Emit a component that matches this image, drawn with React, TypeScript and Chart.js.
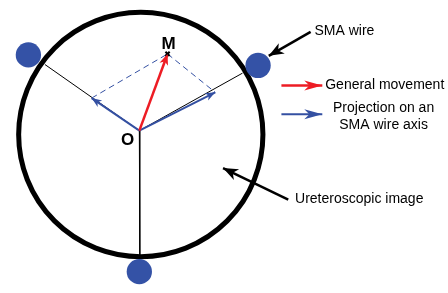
import React, { useEffect, useRef } from "react";
import { Chart, registerables } from "chart.js";

Chart.register(...registerables);

const CANVAS_W = 448;
const CANVAS_H = 293;

// Diagram coordinates (x to the right, y downward)
const imageCenter = [{ x: 138.5, y: 134 }];
const imageRadius = 125.5;
const origin = { x: 137, y: 130 };
const pointM = { x: 166, y: 50 };
const wireEnds = [
  { x: 40, y: 61 },
  { x: 243, y: 70 },
  { x: 137.5, y: 260 },
];
const wireDotsBehind = [{ x: 23, y: 51 }];
const wireDotsFront = [
  { x: 259, y: 62 },
  { x: 137, y: 277 },
];
const wireDotRadius = 13;
const projLeft = { x: 88, y: 96 };
const projRight = { x: 215, y: 90 };

const redArrows = [
  [origin, pointM],
  [{ x: 283, y: 83 }, { x: 325, y: 83 }],
];
const blueArrows = [
  [origin, projLeft],
  [origin, projRight],
  [{ x: 283, y: 113 }, { x: 325, y: 113 }],
];
const blackArrows = [
  [{ x: 313, y: 27 }, { x: 270, y: 52 }],
  [{ x: 290, y: 202 }, { x: 223, y: 169 }],
];
const dashedLines = [
  [projLeft, pointM],
  [pointM, projRight],
];

const boldLabels = [
  { text: "M", x: 167, y: 40 },
  { text: "O", x: 125, y: 140 },
];
const leftLabels = [
  { text: "SMA wire", x: 317, y: 26 },
  { text: "General movement", x: 328, y: 83 },
  { text: "Ureteroscopic image", x: 297, y: 201 },
];
const centerLabels = [
  { text: "Projection on an", x: 388, y: 106 },
  { text: "SMA wire axis", x: 388, y: 124 },
];

const RED = "#ED1C24";
const BLUE = "#3450A2";
const DOT_BLUE = "#3452A6";
const FONT = '"Liberation Sans", Arial, sans-serif';

function lineSet(pts: { x: number; y: number }[], color: string, width: number, dash: number[] = [], order = 5) {
  return {
    type: "scatter" as const,
    data: pts,
    showLine: true,
    borderColor: color,
    borderWidth: width,
    borderDash: dash,
    pointRadius: 0,
    clip: false as const,
    order,
  };
}

const headStyles: { arrows: any[]; color: string; len: number; half: number }[] = [
  { arrows: redArrows, color: RED, len: 11, half: 4.5 },
  { arrows: blueArrows, color: BLUE, len: 10, half: 4 },
  { arrows: blackArrows, color: "#000", len: 15, half: 6 },
];

const overlayPlugin = {
  id: "overlay",
  afterDatasetsDraw(chart: any) {
    const { ctx, scales } = chart;
    const px = (p: { x: number; y: number }) => ({
      x: scales.x.getPixelForValue(p.x),
      y: scales.y.getPixelForValue(p.y),
    });
    ctx.save();
    headStyles.forEach((hs) => {
      hs.arrows.forEach((a: any, i: number) => {
        const s = px(a[0]);
        const e = px(a[1]);
        const legend = a[0].x > 270 && a[0].y === a[1].y;
        const len = legend ? 18 : hs.len;
        const half = legend ? 5 : hs.half;
        const ang = Math.atan2(e.y - s.y, e.x - s.x);
        const cos = Math.cos(ang);
        const sin = Math.sin(ang);
        const bx = e.x - len * cos;
        const by = e.y - len * sin;
        const nx = e.x - len * 0.72 * cos;
        const ny = e.y - len * 0.72 * sin;
        ctx.beginPath();
        ctx.moveTo(e.x, e.y);
        ctx.lineTo(bx - half * sin, by + half * cos);
        ctx.lineTo(nx, ny);
        ctx.lineTo(bx + half * sin, by - half * cos);
        ctx.closePath();
        ctx.fillStyle = hs.color;
        ctx.fill();
      });
    });
    ctx.fillStyle = "#000";
    ctx.textBaseline = "middle";
    ctx.font = `bold 17px ${FONT}`;
    ctx.textAlign = "center";
    boldLabels.forEach((l) => {
      const p = px(l);
      ctx.fillText(l.text, p.x, p.y);
    });
    ctx.font = `14px ${FONT}`;
    ctx.textAlign = "left";
    leftLabels.forEach((l) => {
      const p = px(l);
      ctx.fillText(l.text, p.x, p.y);
    });
    ctx.textAlign = "center";
    centerLabels.forEach((l) => {
      const p = px(l);
      ctx.fillText(l.text, p.x, p.y);
    });
    ctx.restore();
  },
};

export default function App() {
  const ref = useRef<HTMLCanvasElement | null>(null);
  useEffect(() => {
    if (!ref.current) return;
    const datasets: any[] = [];
    // dot behind the image rim
    datasets.push({
      type: "scatter",
      data: wireDotsBehind,
      pointRadius: (c: any) =>
        c.chart.scales.x.getPixelForValue(wireDotRadius) - c.chart.scales.x.getPixelForValue(0),
      pointBackgroundColor: DOT_BLUE,
      pointBorderWidth: 0,
      clip: false,
      order: 10,
    });
    // spokes (SMA wire axes)
    wireEnds.forEach((e) => datasets.push(lineSet([origin, e], "#000", 1, [], 9)));
    // image rim
    datasets.push({
      type: "scatter",
      data: imageCenter,
      pointRadius: (c: any) =>
        c.chart.scales.x.getPixelForValue(imageRadius) - c.chart.scales.x.getPixelForValue(0),
      pointBackgroundColor: "rgba(0,0,0,0)",
      pointBorderColor: "#000",
      pointBorderWidth: 5,
      clip: false,
      order: 8,
    });
    datasets.push({
      type: "scatter",
      data: wireDotsFront,
      pointRadius: (c: any) =>
        c.chart.scales.x.getPixelForValue(wireDotRadius) - c.chart.scales.x.getPixelForValue(0),
      pointBackgroundColor: DOT_BLUE,
      pointBorderWidth: 0,
      clip: false,
      order: 7,
    });
    dashedLines.forEach((d) => datasets.push(lineSet(d, BLUE, 1, [6, 4], 6)));
    redArrows.forEach((a) => datasets.push(lineSet(a, RED, 2.5, [], 4)));
    blueArrows.forEach((a) => datasets.push(lineSet(a, BLUE, 2, [], 4)));
    blackArrows.forEach((a) => datasets.push(lineSet(a, "#000", 2.5, [], 4)));
    datasets.push({
      type: "scatter",
      data: [pointM],
      pointStyle: "crossRot",
      pointRadius: 3,
      pointBorderColor: "#000",
      pointBorderWidth: 2,
      clip: false,
      order: 1,
    });

    const chart = new Chart(ref.current, {
      type: "scatter",
      data: { datasets },
      options: {
        responsive: false,
        animation: false,
        events: [],
        layout: { padding: 0 },
        plugins: { legend: { display: false }, tooltip: { enabled: false }, title: { display: false } },
        scales: {
          x: { type: "linear", min: 0, max: CANVAS_W, display: false },
          y: { type: "linear", min: 0, max: CANVAS_H, reverse: true, display: false },
        },
      },
      plugins: [overlayPlugin],
    } as any);
    return () => chart.destroy();
  }, []);
  return (
    <div style={{ position: "fixed", left: 0, top: 0, width: CANVAS_W, height: CANVAS_H, background: "#fff" }}>
      <canvas ref={ref} width={CANVAS_W} height={CANVAS_H} style={{ width: CANVAS_W, height: CANVAS_H }} />
    </div>
  );
}
